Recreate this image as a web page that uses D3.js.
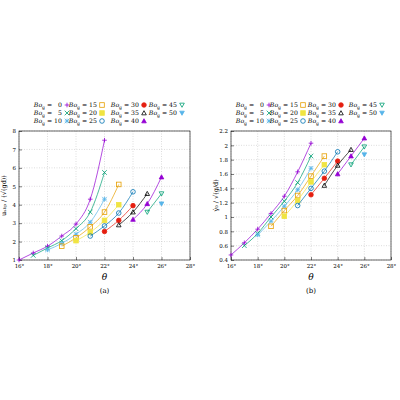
<!DOCTYPE html>
<html><head><meta charset="utf-8">
<script src="https://cdn.jsdelivr.net/npm/d3@7"></script>
<style>body{margin:0;background:#fff}text{font-family:"DejaVu Serif","Liberation Serif",serif}</style>
</head><body><svg id="svg" width="400" height="400"></svg>
<script>
// Bo_g values for each series, and their theta start (degrees)
var bo = [0, 5, 10, 15, 20, 25, 30, 35, 40, 45, 50];
var thetaStart = [16, 17, 18, 19, 20, 21, 22, 23, 24, 25, 26];
var colors = ["#9400d3", "#009e73", "#56b4e9", "#e69f00", "#f0e442", "#0072b2", "#e51e10", "#000000", "#9400d3", "#009e73", "#56b4e9"];
var symbols = ["plus", "cross", "star", "sqO", "sqF", "circO", "circF", "triO", "triF", "dtriO", "dtriF"];

// panel (a): u_slip / sqrt(gd)
var uslip = [
  [1.0, 1.38, 1.75, 2.3, 2.95, 4.3, 7.5],
  [1.25, 1.65, 2.05, 2.7, 3.6, 5.75],
  [1.55, 1.9, 2.4, 3.05, 4.3],
  [1.75, 2.2, 2.8, 3.6, 5.1],
  [2.05, 2.5, 3.15, 4.0],
  [2.3, 2.85, 3.55, 4.7],
  [2.55, 3.15, 3.95],
  [2.9, 3.6, 4.6],
  [3.2, 4.05, 5.5],
  [3.6, 4.6],
  [4.05]
];
// panel (b): gamma_dot_0 / sqrt(g/d)
var gdot = [
  [0.47, 0.64, 0.83, 1.05, 1.29, 1.63, 2.03],
  [0.6, 0.77, 1.0, 1.22, 1.48, 1.85],
  [0.75, 0.94, 1.15, 1.38, 1.68],
  [0.87, 1.09, 1.30, 1.57, 1.85],
  [1.01, 1.23, 1.49, 1.73],
  [1.16, 1.40, 1.64, 1.91],
  [1.31, 1.54, 1.78],
  [1.44, 1.72, 1.94],
  [1.60, 1.85, 2.10],
  [1.73, 1.98],
  [1.87]
];
var xTicks = [16, 18, 20, 22, 24, 26, 28];
var yTicksA = [1, 2, 3, 4, 5, 6, 7, 8];
var yTicksB = [0.4, 0.6, 0.8, 1, 1.2, 1.4, 1.6, 1.8, 2, 2.2];

var SVG = d3.select("#svg");

function marker(g, sym, x, y, c) {
  var s = 2.3;
  if (sym == "plus" || sym == "cross" || sym == "star") {
    var p = "";
    if (sym != "cross") p += "M" + (x - s) + "," + y + "h" + 2 * s + "M" + x + "," + (y - s) + "v" + 2 * s;
    if (sym != "plus") p += "M" + (x - s) + "," + (y - s) + "l" + 2 * s + "," + 2 * s + "M" + (x - s) + "," + (y + s) + "l" + 2 * s + "," + (-2 * s);
    g.append("path").attr("d", p).attr("stroke", c).attr("stroke-width", 0.8).attr("fill", "none");
    return;
  }
  var filled = sym.slice(-1) == "F";
  var el;
  if (sym.startsWith("sq")) el = g.append("rect").attr("x", x - s).attr("y", y - s).attr("width", 2 * s).attr("height", 2 * s);
  else if (sym.startsWith("circ")) el = g.append("circle").attr("cx", x).attr("cy", y).attr("r", s);
  else if (sym.startsWith("tri")) el = g.append("path").attr("d", "M" + x + "," + (y - s) + "L" + (x + s) + "," + (y + s * 0.8) + "L" + (x - s) + "," + (y + s * 0.8) + "Z");
  else el = g.append("path").attr("d", "M" + x + "," + (y + s) + "L" + (x + s) + "," + (y - s * 0.8) + "L" + (x - s) + "," + (y - s * 0.8) + "Z");
  el.attr("stroke", c).attr("stroke-width", 0.8).attr("fill", filled ? c : "none");
}

function panel(left, right, data, yDom, yTicks, yFmt, ylab, cap, lmx) {
  var top = 131, bottom = 260;
  var x = d3.scaleLinear().domain([16, 28]).range([left, right]);
  var y = d3.scaleLinear().domain(yDom).range([bottom, top]);
  var g = SVG.append("g");
  // grid
  g.selectAll(".gx").data(xTicks).enter().append("line")
    .attr("x1", d => x(d)).attr("x2", d => x(d)).attr("y1", top).attr("y2", bottom)
    .attr("stroke", "#bbb").attr("stroke-width", 0.5).attr("stroke-dasharray", "1,1.5");
  g.selectAll(".gy").data(yTicks).enter().append("line")
    .attr("x1", left).attr("x2", right).attr("y1", d => y(d)).attr("y2", d => y(d))
    .attr("stroke", "#bbb").attr("stroke-width", 0.5).attr("stroke-dasharray", "1,1.5");
  var ax = g.append("g").attr("transform", "translate(0," + bottom + ")")
    .call(d3.axisBottom(x).tickValues(xTicks).tickFormat(d => d + "°").tickSize(-3).tickPadding(4));
  var ay = g.append("g").attr("transform", "translate(" + left + ",0)")
    .call(d3.axisLeft(y).tickValues(yTicks).tickFormat(yFmt).tickSize(-3).tickPadding(3));
  [ax, ay].forEach(a => { a.selectAll("text").attr("font-size", 5.5).attr("font-family", "DejaVu Serif"); a.select(".domain").remove(); a.selectAll("line").attr("stroke-width", 0.5); });
  g.append("rect").attr("x", left).attr("y", top).attr("width", right - left).attr("height", bottom - top)
    .attr("fill", "none").attr("stroke", "#000").attr("stroke-width", 0.6);
  var line = d3.line().x(d => x(d[0])).y(d => y(d[1])).curve(d3.curveMonotoneX);
  data.forEach(function (vals, i) {
    var pts = vals.map((v, j) => [thetaStart[i] + j, v]);
    if (pts.length > 1) g.append("path").attr("d", line(pts)).attr("fill", "none").attr("stroke", colors[i]).attr("stroke-width", 0.7);
    pts.forEach(p => marker(g, symbols[i], x(p[0]), y(p[1]), colors[i]));
  });
  // axis labels
  g.append("text").attr("x", (left + right) / 2).attr("y", 280).attr("text-anchor", "middle")
    .attr("font-size", 9).attr("font-style", "italic").text("θ");
  g.append("text").attr("x", (left + right) / 2).attr("y", 293).attr("text-anchor", "middle")
    .attr("font-size", 7).text(cap);
  g.append("text").attr("transform", "translate(" + (left - 13) + "," + ((top + bottom) / 2) + ") rotate(-90)")
    .attr("text-anchor", "middle").attr("font-size", 6.5).text(ylab);
  // legend
  bo.forEach(function (b, i) {
    var col = Math.floor(i / 3), row = i % 3;
    var mx = lmx[col], my = 105 + row * 8;
    var t = g.append("text").attr("x", mx - 5).attr("y", my + 2).attr("text-anchor", "end").attr("font-size", 6.2);
    t.append("tspan").attr("font-style", "italic").text("Bo");
    t.append("tspan").attr("font-size", 4.5).attr("dy", 1.5).text("g");
    t.append("tspan").attr("dy", -1.5).text(" = " + (b < 10 ? "\u2007" : "") + b);
    marker(g, symbols[i], mx, my, colors[i]);
  });
}

panel(19, 190, uslip, [1, 8], yTicksA, d => d, "u\u209B\u2097\u1D62\u209A / (\u221A(gd))", "(a)", [67, 102, 144, 182]);
panel(231, 391, gdot, [0.4, 2.2], yTicksB, d => d3.format("~g")(d), "\u03B3\u0307\u2080 / \u221A(g/d)", "(b)", [269, 303, 341, 382]);
</script></body></html>
